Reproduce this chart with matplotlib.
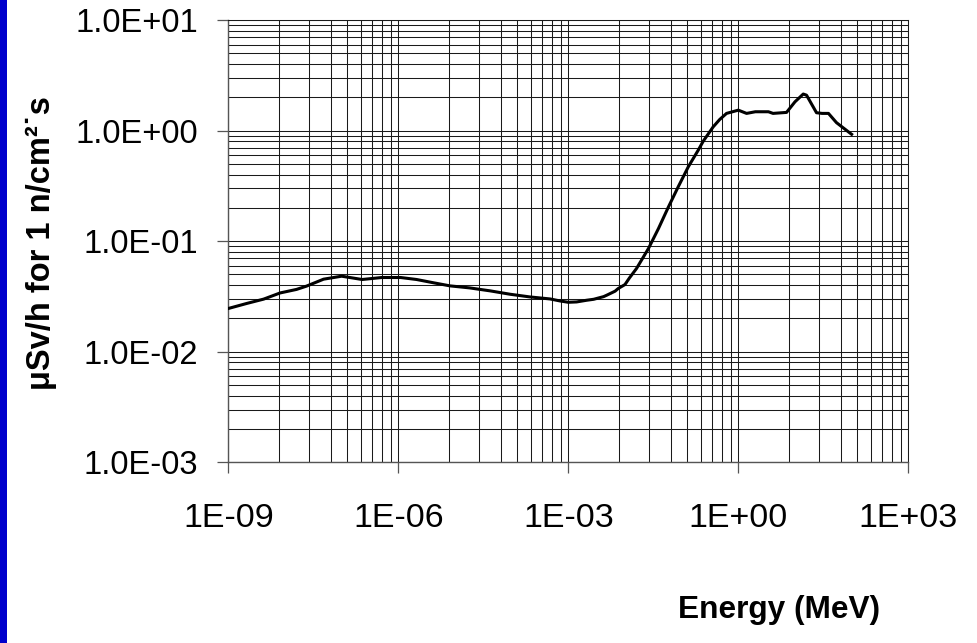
import matplotlib
matplotlib.use("Agg")
import matplotlib.pyplot as plt
import numpy as np
from matplotlib.patches import Rectangle
from matplotlib.ticker import FixedLocator, FuncFormatter, NullFormatter

# neutron energy (MeV) and dose rate (uSv/h per 1 n/cm2.s)
energy_mev = [
    1.0e-9, 2.1e-9, 4.2e-9, 8.2e-9, 1.6e-8, 2.4e-8, 4.8e-8, 1.0e-7, 2.3e-7, 5.1e-7,
    1.1e-6, 2.1e-6, 4.2e-6, 8.2e-6, 1.8e-5, 4.2e-5, 9.4e-5, 2.1e-4, 4.8e-4, 7.1e-4,
    1.0e-3, 1.4e-3, 2.1e-3, 2.8e-3, 4.2e-3, 4.8e-3, 6.7e-3, 7.6e-3, 1.0e-2, 1.2e-2,
    1.6e-2, 2.6e-2, 3.9e-2, 5.8e-2, 8.7e-2, 0.131, 0.197, 0.24, 0.36, 0.47,
    0.62, 1.0, 1.4, 2.0, 3.4, 4.1, 7.1, 10.0, 14.0, 16.0,
    24.0, 30.0, 39.0, 54.0, 100.0,
]
dose_rate = [
    0.0246, 0.0273, 0.0299, 0.0340, 0.0366, 0.0392, 0.0453, 0.0482, 0.0450, 0.0469,
    0.0469, 0.0450, 0.0420, 0.0394, 0.0378, 0.0355, 0.0331, 0.0313, 0.0300, 0.0288,
    0.0280, 0.0282, 0.0292, 0.0298, 0.0315, 0.0325, 0.0353, 0.0373, 0.0405, 0.0465,
    0.0566, 0.0859, 0.130, 0.202, 0.310, 0.470, 0.667, 0.80, 1.08, 1.26,
    1.43, 1.53, 1.43, 1.48, 1.48, 1.43, 1.46, 1.82, 2.14, 2.09,
    1.45, 1.43, 1.43, 1.18, 0.925,
]

x_major = [1e-9, 1e-6, 1e-3, 1e0, 1e3]
y_major = [1e-3, 1e-2, 1e-1, 1e0, 1e1]
# minor x gridlines sit at k^3 inside each 1000x step
x_minor = [base * k ** 3 for base in x_major[:-1] for k in range(2, 10)]
y_minor = [base * k for base in y_major[:-1] for k in range(2, 10)]

FONT = "Liberation Sans"

fig = plt.figure(figsize=(9.78, 6.43), dpi=100)
fig.patch.set_facecolor("white")
fig.patches.append(Rectangle((0, 0), 7 / 978, 1, transform=fig.transFigure,
                             facecolor="#0000cc", edgecolor="none"))

ax = fig.add_axes([228.3 / 978, 1 - 462.3 / 643, 680 / 978, 442.3 / 643])
ax.set_xscale("log")
ax.set_yscale("log")
ax.set_xlim(1e-9, 1e3)
ax.set_ylim(1e-3, 1e1)

ax.plot(energy_mev, dose_rate, color="black", linewidth=2.2, solid_joinstyle="round", zorder=3)

ax.xaxis.set_major_locator(FixedLocator(x_major))
ax.xaxis.set_minor_locator(FixedLocator(x_minor))
ax.yaxis.set_major_locator(FixedLocator(y_major))
ax.yaxis.set_minor_locator(FixedLocator(y_minor))
ax.xaxis.set_minor_formatter(NullFormatter())
ax.yaxis.set_minor_formatter(NullFormatter())
ax.xaxis.set_major_formatter(FuncFormatter(lambda v, _: f"{v:.0E}"))
ax.yaxis.set_major_formatter(FuncFormatter(lambda v, _: f"{v:.1E}"))

ax.grid(True, which="both", color="#1a1a1a", linewidth=0.75)
ax.set_axisbelow(True)
ax.tick_params(which="major", direction="out", length=8, width=0.9, color="#555555",
               labelcolor="black")
ax.tick_params(axis="y", which="major", pad=13.5, labelsize=23.5)
ax.tick_params(axis="x", which="major", pad=21, labelsize=24.5)
ax.tick_params(which="minor", length=0)
for lab in ax.get_xticklabels() + ax.get_yticklabels():
    lab.set_fontfamily(FONT)
for side in ("left", "bottom"):
    ax.spines[side].set_color("#555555")
    ax.spines[side].set_linewidth(1.0)
for side in ("top", "right"):
    ax.spines[side].set_color("#1a1a1a")
    ax.spines[side].set_linewidth(0.75)

fig.text(41 / 978, 1 - 243 / 643, "μSv/h for 1 n/cm²˙s", rotation=90, ha="center",
         va="center", fontsize=23.5, fontweight="bold", family=[FONT, "DejaVu Sans"])
fig.text(779 / 978, 1 - 618 / 643, "Energy (MeV)", ha="center", va="baseline",
         fontsize=22.8, fontweight="bold", family=FONT)

fig.savefig("out.png", dpi=100, facecolor="white")
